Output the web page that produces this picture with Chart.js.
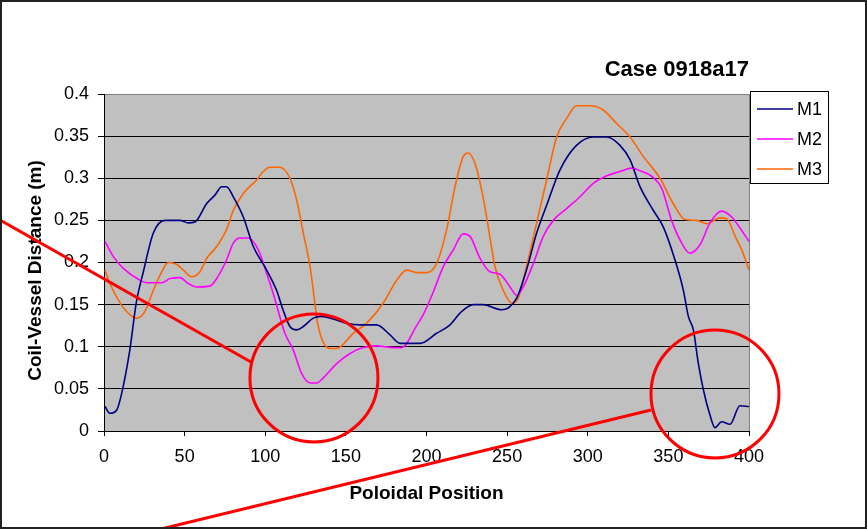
<!DOCTYPE html>
<html><head><meta charset="utf-8">
<script src="https://cdn.jsdelivr.net/npm/chart.js@4.4.1/dist/chart.umd.min.js"></script>
<style>html,body{margin:0;padding:0;background:#fff;overflow:hidden}canvas{display:block}</style>
</head><body>
<canvas id="c" width="867" height="529"></canvas>
<script>
const seriesNames = ['M1', 'M2', 'M3'];
const seriesColors = ['#000080', '#FF00FF', '#FF6600'];

const m1Pos = [0.6,3.7,7.9,11,16,20,24.4,30.6,37.8,47,52.3,56.4,63.7,68.8,73,76,80.2,86.4,92.6,100.9,107,111,115.3,119.5,123.6,129.8,135,142.2,150.5,158.8,169,177.4,183.6,196,206.3,214.6,220.8,229,235,246.6,250.7,256,262,268.3,274.5,282.8,293,303.4,311.8,320,326.2,332.4,340.6,346.9,354.1,359.3,362.4,365.5,368.6,371.7,375.8,378.9,383,388.2,394.4,400];
const m1Val = [.029,.021,.025,.045,.096,.152,.189,.235,.250,.250,.247,.248,.270,.280,.290,.290,.278,.254,.219,.191,.167,.144,.124,.120,.124,.134,.136,.133,.128,.126,.126,.114,.104,.104,.116,.126,.140,.150,.150,.144,.146,.158,.191,.235,.268,.310,.339,.349,.349,.339,.322,.290,.262,.242,.203,.167,.136,.120,.080,.049,.019,.004,.011,.008,.030,.029];

const m2Pos = [0.6,5.8,12,22.3,26.5,35.8,41,47,52.3,57.5,65.7,69.9,76,80.2,84.3,89.5,95.7,100.9,105,112.2,117.4,122.6,127.8,131.9,136,144.3,152.6,160.8,169.1,179.4,184.6,193.9,198,204.2,210.4,216.6,222.8,227,233.2,239.4,245.6,251.8,256,260,266.3,272.4,278.6,286.9,295.2,303.4,311.8,320,327.2,332.4,340.6,345.9,352,357.2,363.4,369.6,375.8,383,389.3,394.4,400];
const m2Val = [.225,.207,.193,.179,.176,.176,.181,.182,.175,.171,.172,.181,.203,.223,.229,.229,.215,.187,.163,.116,.096,.068,.057,.057,.063,.080,.092,.099,.101,.099,.099,.125,.138,.165,.195,.215,.234,.231,.205,.189,.186,.171,.161,.171,.199,.231,.250,.264,.278,.294,.303,.308,.312,.309,.301,.288,.250,.227,.211,.221,.247,.261,.254,.241,.225];

const m3Pos = [0.6,3.7,7.9,13,20.3,25.4,30.6,35.8,39.9,45,49.2,54.4,59.5,63.7,69.9,76,80.2,86.4,94.7,98.8,103,109,115.3,119.5,123.6,127.8,132.9,140.2,144.3,154.6,162.9,173.2,181.5,187.7,193.9,200.1,206.3,212.5,217.7,222.8,225.9,230,234.2,237.3,242.5,247.6,252.8,256.9,262,268.3,274.5,280.7,286.9,293.1,301.4,309.6,317.9,326.2,334.4,344.8,353,360.3,367.6,373.8,382,386.2,391.4,395.5,400];
const m3Val = [.191,.175,.159,.144,.134,.142,.167,.189,.200,.198,.191,.183,.189,.205,.219,.239,.262,.282,.298,.308,.313,.313,.300,.274,.235,.195,.124,.098,.098,.116,.128,.152,.179,.191,.188,.188,.199,.239,.290,.326,.330,.318,.286,.254,.195,.167,.152,.158,.195,.247,.298,.349,.371,.386,.386,.381,.365,.349,.326,.300,.270,.251,.250,.246,.253,.252,.231,.215,.191];

const xTickLabels = ['0','50','100','150','200','250','300','350','400'];
const yTickLabels = ['0','0.05','0.1','0.15','0.2','0.25','0.3','0.35','0.4'];
const chartTitle = 'Case 0918a17';
const xAxisTitle = 'Poloidal Position';
const yAxisTitle = 'Coil-Vessel Distance (m)';

const FONT = "'Liberation Sans', Arial, sans-serif";

function toPoints(pos, val) { return pos.map((p, i) => ({x: p, y: val[i]})); }
const seriesData = [toPoints(m1Pos, m1Val), toPoints(m2Pos, m2Val), toPoints(m3Pos, m3Val)];

const decoPlugin = {
  id: 'deco',
  beforeDraw(chart) {
    const ctx = chart.ctx, a = chart.chartArea;
    ctx.save();
    ctx.fillStyle = '#fff';
    ctx.fillRect(0, 0, chart.width, chart.height);
    ctx.fillStyle = '#C0C0C0';
    ctx.fillRect(a.left, a.top, a.right - a.left, a.bottom - a.top);
    ctx.restore();
  },
  afterDraw(chart) {
    const ctx = chart.ctx, a = chart.chartArea;
    const xs = chart.scales.x, ys = chart.scales.y;
    ctx.save();
    // plot right border
    ctx.strokeStyle = '#808080'; ctx.lineWidth = 1;
    ctx.beginPath(); ctx.moveTo(a.right + 0.5, a.top); ctx.lineTo(a.right + 0.5, a.bottom); ctx.stroke();
    // title
    ctx.fillStyle = '#000';
    ctx.font = 'bold 22px ' + FONT;
    ctx.textAlign = 'right'; ctx.textBaseline = 'middle';
    ctx.fillText(chartTitle, a.right, 70);
    // y axis title
    ctx.save();
    ctx.translate(36, (a.top + a.bottom) / 2 + 8);
    ctx.rotate(-Math.PI / 2);
    ctx.font = 'bold 19px ' + FONT;
    ctx.textAlign = 'center'; ctx.textBaseline = 'middle';
    ctx.fillText(yAxisTitle, 0, 0);
    ctx.restore();
    // legend
    const lx = a.right + 1, ly = 91, lw = 78, lh = 92;
    ctx.fillStyle = '#fff'; ctx.fillRect(lx, ly, lw, lh);
    ctx.strokeStyle = '#000'; ctx.lineWidth = 1;
    ctx.strokeRect(lx + 0.5, ly + 0.5, lw, lh);
    ctx.font = '18px ' + FONT; ctx.textAlign = 'left';
    seriesNames.forEach((n, i) => {
      const y = ly + 18 + i * 30;
      ctx.strokeStyle = seriesColors[i]; ctx.lineWidth = 1.5;
      ctx.beginPath(); ctx.moveTo(lx + 7, y); ctx.lineTo(lx + 43, y); ctx.stroke();
      ctx.fillStyle = '#000';
      ctx.fillText(n, lx + 47, y + 1);
    });
    // red annotations
    ctx.strokeStyle = '#FF0000'; ctx.lineWidth = 3;
    const r = 64;
    [[130.2, 0.063], [378.9, 0.044]].forEach(([vx, vy]) => {
      ctx.beginPath();
      ctx.arc(xs.getPixelForValue(vx), ys.getPixelForValue(vy), r, 0, Math.PI * 2);
      ctx.stroke();
    });
    ctx.beginPath(); ctx.moveTo(0, 220); ctx.lineTo(251, 362); ctx.stroke();
    ctx.beginPath(); ctx.moveTo(157, 530); ctx.lineTo(651, 410); ctx.stroke();
    // outer frame
    ctx.strokeStyle = '#222'; ctx.lineWidth = 2;
    ctx.strokeRect(1, 1, chart.width - 2, chart.height - 2);
    ctx.restore();
  }
};

new Chart(document.getElementById('c'), {
  type: 'line',
  data: {
    datasets: seriesNames.map((n, i) => ({
      label: n,
      data: seriesData[i],
      borderColor: seriesColors[i],
      backgroundColor: seriesColors[i],
      borderWidth: 1.6,
      pointRadius: 0,
      cubicInterpolationMode: 'monotone',
      fill: false
    }))
  },
  options: {
    responsive: false,
    animation: false,
    layout: {padding: {top: 94, right: 118, left: 0, bottom: 0}},
    plugins: {legend: {display: false}, title: {display: false}, tooltip: {enabled: false}},
    scales: {
      x: {
        type: 'linear', min: 0, max: 400,
        afterFit(s) { s.height = 98; },
        ticks: {stepSize: 50, color: '#000', font: {family: FONT, size: 18}, padding: 10, maxRotation: 0,
          callback: (v, i) => xTickLabels[i]},
        grid: {drawOnChartArea: false, drawTicks: true, tickLength: 5, color: '#000'},
        border: {color: '#000', width: 1},
        title: {display: true, text: xAxisTitle, color: '#000', font: {family: FONT, size: 19, weight: 'bold'}, padding: {top: 0, bottom: 24}}
      },
      y: {
        min: 0, max: 0.4,
        afterFit(s) { s.width = 104; },
        ticks: {stepSize: 0.05, color: '#000', font: {family: FONT, size: 18}, padding: 9,
          callback: (v, i) => yTickLabels[i]},
        grid: {drawTicks: true, tickLength: 6, tickColor: '#000', lineWidth: 1,
          color: c => (c.tick && Math.abs(c.tick.value - 0.4) < 1e-6) ? '#808080' : '#000'},
        border: {color: '#000', width: 1},
        title: {display: false}
      }
    }
  },
  plugins: [decoPlugin]
});
</script>
</body></html>
